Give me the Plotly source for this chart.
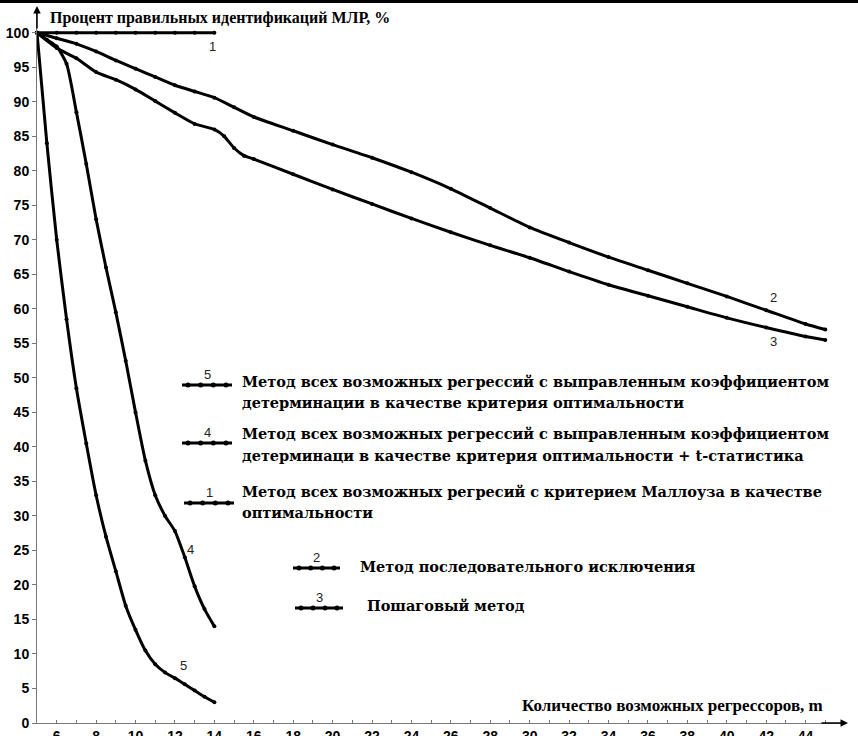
import plotly.graph_objects as go

# ---------------- data ----------------
m1 = [5, 6, 7, 8, 9, 10, 11, 12, 13, 14]
v1 = [100, 100, 100, 100, 100, 100, 100, 100, 100, 100]

m2 = [5, 6, 7, 8, 9, 10, 11, 12, 13, 14, 15, 16, 18, 20, 22, 24, 26, 28, 30, 32, 34, 36, 38, 40, 42, 44, 45]
v2 = [100, 99.2, 98.4, 97.3, 96.0, 94.8, 93.6, 92.4, 91.5, 90.6, 89.2, 87.8, 85.8, 83.8, 81.9, 79.8, 77.4, 74.6,
      71.8, 69.6, 67.5, 65.6, 63.7, 61.8, 59.8, 57.8, 57.0]

m3 = [5, 6, 7, 8, 9, 10, 11, 12, 13, 14, 14.5, 15, 15.5, 16, 18, 20, 22, 24, 26, 28, 30, 32, 34, 36, 38, 40, 42, 44, 45]
v3 = [100, 97.8, 96.3, 94.3, 93.2, 91.8, 90.1, 88.4, 86.8, 86.0, 85.0, 83.3, 82.2, 81.7, 79.5, 77.3, 75.2, 73.1,
      71.1, 69.2, 67.4, 65.4, 63.5, 61.9, 60.3, 58.7, 57.3, 56.0, 55.5]

m4 = [5, 5.5, 6, 6.5, 7, 7.5, 8, 8.5, 9, 9.5, 10, 10.5, 11, 11.5, 12, 12.5, 13, 13.5, 14]
v4 = [100, 99, 98, 95.5, 88.5, 81, 73, 66, 59.5, 52.5, 45, 38, 33, 30, 27.8, 24, 19.8, 16.5, 14]

m5 = [5, 5.5, 6, 6.5, 7, 7.5, 8, 8.5, 9, 9.5, 10, 10.5, 11, 11.5, 12, 12.5, 13, 13.5, 14]
v5 = [100, 84, 70, 58.5, 48.5, 40.5, 33, 27, 22, 17, 13.5, 10.5, 8.5, 7.3, 6.5, 5.6, 4.7, 3.8, 3.0]

x_ticks = [6, 8, 10, 12, 14, 16, 18, 20, 22, 24, 26, 28, 30, 32, 34, 36, 38, 40, 42, 44]
y_ticks = [0, 5, 10, 15, 20, 25, 30, 35, 40, 45, 50, 55, 60, 65, 70, 75, 80, 85, 90, 95, 100]

y_title = "Процент правильных идентификаций МЛР, %"
x_title = "Количество возможных регрессоров, m"

legend_items = [
    ("5", ["Метод всех возможных регрессий с выправленным коэффициентом",
           "детерминации в качестве критерия оптимальности"]),
    ("4", ["Метод всех возможных регрессий с выправленным коэффициентом",
           "детерминаци в качестве критерия оптимальности + t-статистика"]),
    ("1", ["Метод всех возможных регресий с критерием Маллоуза в качестве",
           "оптимальности"]),
    ("2", ["Метод последовательного исключения"]),
    ("3", ["Пошаговый метод"]),
]

# ---------------- figure ----------------
W, H = 858, 736
L, R, T, B = 37, 13, 10, 13
XR = [5, 46]
YR = [0, 103.3]
pw, ph = W - L - R, H - T - B


def px2x(px):
    return XR[0] + (px - L) / pw * (XR[1] - XR[0])


def px2y(py):
    return YR[0] + (H - B - py) / ph * (YR[1] - YR[0])


fig = go.Figure()
BLK = "#000000"
series = [(m1, v1, "linear"), (m2, v2, "spline"), (m3, v3, "spline"), (m4, v4, "spline"), (m5, v5, "spline")]
for mx, vy, shp in series:
    fig.add_trace(go.Scatter(x=mx, y=vy, mode="lines+markers",
                             line=dict(color=BLK, width=3, shape=shp, smoothing=0.6),
                             marker=dict(color=BLK, size=4),
                             showlegend=False, hoverinfo="skip", cliponaxis=False))

serif = "Liberation Serif, Times New Roman, serif"
wide_serif = "DejaVu Serif, serif"
sans = "Liberation Sans, Arial, sans-serif"

ann = []
# curve labels
for txt, px, py in [("1", 212, 46), ("2", 773, 297), ("3", 773, 341), ("4", 190, 549), ("5", 183, 665)]:
    ann.append(dict(x=px2x(px), y=px2y(py), text=txt, showarrow=False,
                    font=dict(family=sans, size=13, color="#222")))

# axis titles
ann.append(dict(x=px2x(48), y=px2y(18), text=y_title, showarrow=False, xanchor="left",
                font=dict(family=serif, size=16, color=BLK, weight="bold")))
ann.append(dict(x=px2x(825), y=px2y(705), text=x_title, showarrow=False, xanchor="right",
                font=dict(family=serif, size=17, color=BLK, weight="bold")))

# axis arrows
ann.append(dict(x=px2x(37), y=px2y(6), ax=px2x(37), ay=px2y(30), xref="x", yref="y", axref="x", ayref="y",
                text="", showarrow=True, arrowhead=2, arrowsize=1, arrowwidth=1.5, arrowcolor=BLK))
ann.append(dict(x=px2x(848), y=0, ax=px2x(820), ay=0, xref="x", yref="y", axref="x", ayref="y",
                text="", showarrow=True, arrowhead=2, arrowsize=1, arrowwidth=1.5, arrowcolor=BLK))

shapes = []
# legend
leg_pos = [
    (182, 232, 385, [381, 402], 240),
    (182, 232, 443, [433, 455], 240),
    (184, 234, 503, [491, 512], 240),
    (293, 340, 568, [566], 358),
    (295, 343, 608, [605], 365),
]
for (num, lines), (x0, x1, ly, tys, tx) in zip(legend_items, leg_pos):
    shapes.append(dict(type="line", xref="x", yref="y", x0=px2x(x0), x1=px2x(x1), y0=px2y(ly), y1=px2y(ly),
                       line=dict(color=BLK, width=3)))
    for k in range(4):
        cx = x0 + 6 + k * (x1 - x0 - 12) / 3
        shapes.append(dict(type="circle", xref="x", yref="y", x0=px2x(cx - 2.5), x1=px2x(cx + 2.5),
                           y0=px2y(ly + 2.5), y1=px2y(ly - 2.5), fillcolor=BLK, line=dict(width=0)))
    ann.append(dict(x=px2x((x0 + x1) / 2), y=px2y(ly - 11), text=num, showarrow=False,
                    font=dict(family=sans, size=13, color="#222")))
    for t, ty in zip(lines, tys):
        ann.append(dict(x=px2x(tx), y=px2y(ty), text=t, showarrow=False, xanchor="left",
                        font=dict(family=wide_serif, size=14.5, color=BLK, weight="bold")))

# top border bar
shapes.append(dict(type="rect", xref="paper", yref="paper", x0=-L / pw, x1=1 + R / pw,
                   y0=1 + (T - 3) / ph, y1=1 + T / ph, fillcolor=BLK, line=dict(width=0)))

fig.update_layout(
    width=W, height=H, margin=dict(l=L, r=R, t=T, b=B, autoexpand=False),
    paper_bgcolor="white", plot_bgcolor="white",
    annotations=ann, shapes=shapes,
    xaxis=dict(range=XR, tickvals=x_ticks, ticktext=[str(v) for v in x_ticks], showgrid=False, zeroline=False,
               automargin=False,
               showline=True, linecolor="#777", linewidth=1, ticks="inside", ticklen=3, tickcolor="#777",
               minor=dict(dtick=1, ticks="inside", ticklen=3, tickcolor="#777"),
               tickfont=dict(family=sans, size=14, color=BLK, weight="bold")),
    yaxis=dict(range=YR, tickvals=y_ticks, showgrid=False, zeroline=False, automargin=False,
               showline=True, linecolor="#777", linewidth=1, ticks="outside", ticklen=4, tickcolor="#777",
               tickfont=dict(family=sans, size=14, color=BLK, weight="bold")),
)

fig.write_html("out.html", config={"displayModeBar": False},
               post_script="document.body.style.margin='0';document.body.style.overflow='hidden';")
